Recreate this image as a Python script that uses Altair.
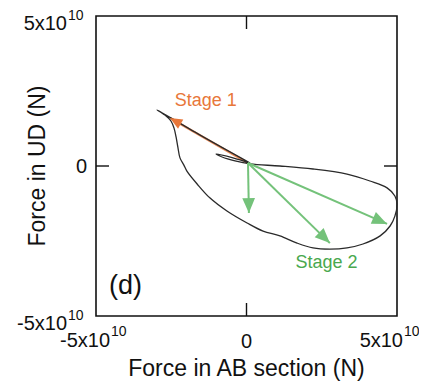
import math
import altair as alt
import pandas as pd

UNIT = 1e10
FONT = "Liberation Sans"

# Hysteresis loop (units of 1e10 N), in drawing order
loop_x = [0.12, -0.45, -1.01, -0.81, -0.38, 0.12, 1.11, 2.21, 3.34, 4.10, 4.67, 4.93, 5.00,
          4.93, 4.77, 4.44, 3.87, 3.34, 2.77, 2.21, 1.68, 1.11, 0.55, 0.02, -0.65, -1.21, -1.64,
          -1.98, -2.08, -2.21, -2.28, -2.34, -2.41, -2.51, -2.71, -2.97, -1.54, 0.12]
loop_y = [0.10, 0.27, 0.40, 0.30, 0.17, 0.07, 0.00, -0.10, -0.27, -0.50, -0.73, -1.00, -1.27,
          -1.67, -2.00, -2.33, -2.60, -2.73, -2.77, -2.73, -2.57, -2.33, -2.17, -1.90, -1.50, -1.07, -0.60,
          -0.17, 0.03, 0.27, 0.63, 0.97, 1.27, 1.50, 1.70, 1.87, 1.03, 0.10]

# Arrows
origin_x = [0.05]
origin_y = [0.10]
stage1_end_x = [-2.54]
stage1_end_y = [1.60]
stage2_end_x = [0.08, 2.77, 4.67]
stage2_end_y = [-1.57, -2.57, -1.93]

# Annotations
note_text = ["Stage 1", "Stage 2", "(d)"]
note_x = [-1.35, 2.66, -4.02]
note_y = [2.18, -3.22, -4.0]

# Axis titles
x_title = "Force in AB section (N)"
y_title = "Force in UD (N)"

# Tick labels
tick_values = [-5, 0, 5]
tick_main = ["-5x10", "0", "5x10"]
tick_exp = ["10", "", "10"]

DOM = [-5 * UNIT, 5 * UNIT]
PX_X = 301 / 10.0   # pixels per 1e10 along x
PX_Y = 300 / 10.0   # pixels per 1e10 along y

loop_df = pd.DataFrame({"x": [v * UNIT for v in loop_x],
                        "y": [v * UNIT for v in loop_y],
                        "i": list(range(len(loop_x)))})


def arrow_df(x0, y0, xs, ys):
    rows = []
    for xe, ye in zip(xs, ys):
        ang = math.degrees(math.atan2((xe - x0) * PX_X, (ye - y0) * PX_Y)) % 360
        rows.append({"x0": x0 * UNIT, "y0": y0 * UNIT, "x1": xe * UNIT, "y1": ye * UNIT, "ang": ang})
    return pd.DataFrame(rows)


s1 = arrow_df(origin_x[0], origin_y[0], stage1_end_x, stage1_end_y)
s2 = arrow_df(origin_x[0], origin_y[0], stage2_end_x, stage2_end_y)

xs = alt.Scale(domain=DOM, nice=False, zero=False)
ys = alt.Scale(domain=DOM, nice=False, zero=False)


def X(f):
    return alt.X(f, scale=xs, axis=None)


def Y(f):
    return alt.Y(f, scale=ys, axis=None)


loop = alt.Chart(loop_df).mark_line(color="#2a2a2a", strokeWidth=1.3, interpolate="catmull-rom").encode(
    x=X("x:Q"), y=Y("y:Q"), order="i:Q")

ORANGE = "#e8773a"
GREEN = "#74c27a"
GREEN_TXT = "#49a84e"

head_path = "M0,0L-0.85,2L0.85,2Z"

s1_line = alt.Chart(s1).mark_rule(color=ORANGE, strokeWidth=2.2, opacity=0.85).encode(
    x=X("x0:Q"), y=Y("y0:Q"), x2="x1:Q", y2="y1:Q")
s1_head = alt.Chart(s1).mark_point(shape=head_path, filled=True, opacity=1, size=150,
                                   color=ORANGE, strokeWidth=0).encode(
    x=X("x1:Q"), y=Y("y1:Q"), angle=alt.Angle("ang:Q", scale=None))

s2_line = alt.Chart(s2).mark_rule(color=GREEN, strokeWidth=2).encode(
    x=X("x0:Q"), y=Y("y0:Q"), x2="x1:Q", y2="y1:Q")
s2_head = alt.Chart(s2).mark_point(shape=head_path, filled=True, opacity=1, size=225,
                                   color=GREEN, strokeWidth=0).encode(
    x=X("x1:Q"), y=Y("y1:Q"), angle=alt.Angle("ang:Q", scale=None))

notes = pd.DataFrame({"t": note_text, "x": [v * UNIT for v in note_x], "y": [v * UNIT for v in note_y]})


def note(idx, color, size):
    return alt.Chart(notes.iloc[[idx]]).mark_text(font=FONT, fontSize=size, color=color,
                                                   align="center", baseline="middle").encode(
        x=X("x:Q"), y=Y("y:Q"), text="t:N")


t1 = note(0, ORANGE, 18)
t2 = note(1, GREEN_TXT, 18)
t3 = note(2, "#111", 27)

# axis titles
ttl = pd.DataFrame({"t": [x_title, y_title]})
xt = alt.Chart(ttl.iloc[[0]]).mark_text(font=FONT, fontSize=23, color="#111", align="center",
                                        baseline="middle").encode(
    x=alt.value(150.5), y=alt.value(353), text="t:N")
yt = alt.Chart(ttl.iloc[[1]]).mark_text(font=FONT, fontSize=23, color="#111", align="center",
                                        baseline="middle", angle=270).encode(
    x=alt.value(-58), y=alt.value(150), text="t:N")

# inward ticks at zero on all four sides
tick_style = dict(color="#111", strokeWidth=1.4)
tk_b = alt.Chart().mark_rule(**tick_style).encode(x=alt.X(datum=0, scale=xs, axis=None),
                                                  y=alt.value(287), y2=alt.value(300))
tk_t = alt.Chart().mark_rule(**tick_style).encode(x=alt.X(datum=0, scale=xs, axis=None),
                                                  y=alt.value(0), y2=alt.value(13))
tk_l = alt.Chart().mark_rule(**tick_style).encode(y=alt.Y(datum=0, scale=ys, axis=None),
                                                  x=alt.value(0), x2=alt.value(13))
tk_r = alt.Chart().mark_rule(**tick_style).encode(y=alt.Y(datum=0, scale=ys, axis=None),
                                                  x=alt.value(288), x2=alt.value(301))

ticks = pd.DataFrame({"v": [v * UNIT for v in tick_values], "m": tick_main, "e": tick_exp})
neg = ticks[ticks["v"] < 0]
pos = ticks[ticks["v"] > 0]
nz = ticks[ticks["e"] != ""]
zr = ticks[ticks["e"] == ""]

LBL = dict(font=FONT, fontSize=20, color="#111", baseline="middle")
EXP = dict(font=FONT, fontSize=14, color="#111", baseline="middle")

# x axis labels (the right one nudged in so it stays inside the page)
xl_main_n = alt.Chart(neg).mark_text(align="right", dx=14, **LBL).encode(
    x=X("v:Q"), y=alt.value(325), text="m:N")
xl_exp_n = alt.Chart(neg).mark_text(align="left", dx=15, **EXP).encode(
    x=X("v:Q"), y=alt.value(316), text="e:N")
xl_main_p = alt.Chart(pos).mark_text(align="right", dx=6, **LBL).encode(
    x=X("v:Q"), y=alt.value(325), text="m:N")
xl_exp_p = alt.Chart(pos).mark_text(align="left", dx=7, **EXP).encode(
    x=X("v:Q"), y=alt.value(316), text="e:N")
xl_zero = alt.Chart(zr).mark_text(align="center", **LBL).encode(
    x=X("v:Q"), y=alt.value(326), text="m:N")

# y axis labels
yl_main = alt.Chart(nz).mark_text(align="right", dy=8, **LBL).encode(
    y=Y("v:Q"), x=alt.value(-29), text="m:N")
yl_exp = alt.Chart(nz).mark_text(align="left", dy=0, **EXP).encode(
    y=Y("v:Q"), x=alt.value(-28), text="e:N")
yl_zero = alt.Chart(zr).mark_text(align="right", dy=1, **LBL).encode(
    y=Y("v:Q"), x=alt.value(-9), text="m:N")

chart = alt.layer(
    s1_line, loop, s1_head, s2_line, s2_head, t1, t2, t3, xt, yt,
    tk_b, tk_t, tk_l, tk_r,
    xl_main_n, xl_exp_n, xl_main_p, xl_exp_p, xl_zero, yl_main, yl_exp, yl_zero,
).properties(
    width=301, height=300,
    autosize=alt.AutoSizeParams(type="none"),
    padding={"left": 88, "top": 8, "right": 22, "bottom": 66},
).configure_view(stroke="#111", strokeWidth=1.6)

chart.save("out.html", embed_options={"renderer": "svg", "actions": False})
